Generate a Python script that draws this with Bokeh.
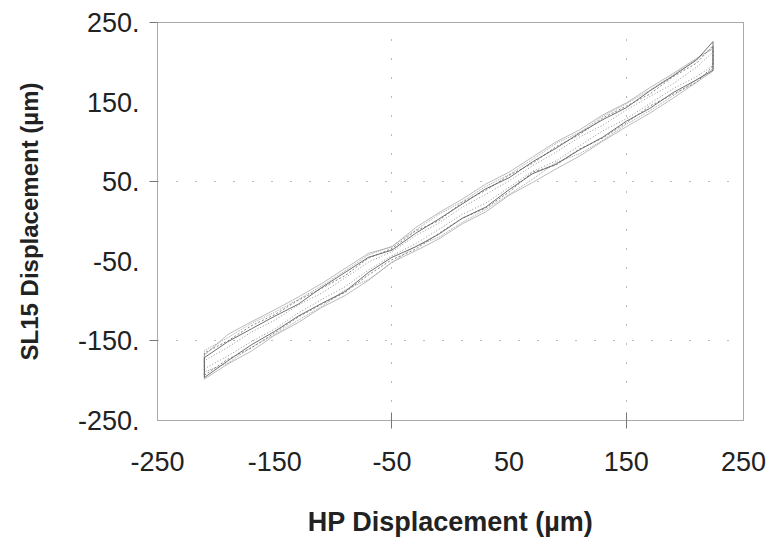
from bokeh.plotting import figure
from bokeh.models import Range1d, FixedTicker, PrintfTickFormatter
from bokeh.embed import file_html
from bokeh.resources import INLINE

# HP displacement nodes (µm) used by every branch
x_nodes = [-210, -190, -170, -150, -130, -110, -90, -70, -50, -30, -10, 10, 30, 50, 70,
           90, 110, 130, 150, 170, 190, 210, 224]

# SL15 displacement (µm) read along each loading / unloading branch
loopA_low = [-196, -175, -155, -138, -119, -103, -88, -64, -45, -32, -16, 4, 18, 40, 60,
             72, 90, 106, 126, 142, 162, 178, 190]
loopA_up = [-171, -151, -135, -119, -104, -83, -64, -45, -36, -15, 3, 22, 41, 55, 75,
            92, 111, 128, 143, 164, 183, 203, 226]
loopB_low = [-193, -173, -159, -140, -120, -104, -89, -67, -48, -35, -15, 4, 17, 37, 62,
             71, 91, 105, 124, 145, 160, 175, 195]
loopB_up = [-165, -150, -131, -117, -99, -84, -68, -46, -34, -12, 1, 24, 39, 58, 73,
            94, 109, 130, 145, 160, 182, 199, 221]
loopC_low = [-189, -178, -158, -142, -124, -107, -86, -73, -52, -31, -20, -1, 15, 34, 53,
             74, 85, 102, 122, 139, 158, 178, 192]
loopC_up = [-162, -146, -128, -114, -98, -81, -62, -42, -31, -11, 9, 25, 44, 59, 78,
            98, 112, 132, 148, 165, 184, 204, 219]
loopD_low = [-185, -169, -151, -135, -115, -98, -82, -61, -43, -28, -10, 9, 23, 43, 63,
             76, 95, 114, 129, 148, 167, 182, 196]
loopD_up = [-175, -158, -139, -124, -105, -90, -71, -51, -38, -18, -2, 18, 34, 51, 70,
            87, 106, 121, 140, 157, 173, 194, 213]
loopE_low = [-198, -179, -163, -143, -127, -108, -93, -74, -51, -37, -22, -3, 12, 33, 49,
             66, 82, 101, 119, 136, 155, 175, 189]
loopE_up = [-168, -142, -126, -111, -95, -78, -59, -40, -32, -8, 11, 28, 47, 62, 81,
            100, 115, 134, 149, 168, 186, 205, 217]

x_ticks = [-250, -150, -50, 50, 150, 250]
y_ticks = [-250, -150, -50, 50, 150, 250]
x_grid = [-50, 150]
y_grid = [-150, 50]
y_marks = [250, 50, -150]

FONT = "Liberation Sans"

p = figure(width=770, height=548, output_backend="svg", toolbar_location=None,
           x_range=Range1d(-250, 250), y_range=Range1d(-250, 250),
           min_border_left=157, min_border_right=27, min_border_top=22,
           min_border_bottom=128)

p.background_fill_color = "white"
p.border_fill_color = "white"
p.outline_line_color = "#555555"
p.outline_line_dash = "1 1"
p.outline_line_width = 1

# grid
p.xgrid.ticker = FixedTicker(ticks=x_grid)
p.ygrid.ticker = FixedTicker(ticks=y_grid)
for g in (p.xgrid, p.ygrid):
    g.grid_line_color = "#777777"
    g.grid_line_dash = "1 18"
    g.grid_line_width = 1

# axes
p.xaxis.ticker = FixedTicker(ticks=x_ticks, minor_ticks=x_grid)
p.yaxis.ticker = FixedTicker(ticks=y_ticks, minor_ticks=y_marks)
p.xaxis.formatter = PrintfTickFormatter(format="%d")
p.yaxis.formatter = PrintfTickFormatter(format="%d.")
for ax in (p.xaxis, p.yaxis):
    ax.axis_line_color = None
    ax.major_tick_in = 0
    ax.major_tick_out = 0
    ax.minor_tick_line_color = "#777777"
    ax.major_label_text_font = FONT
    ax.major_label_text_font_size = "27px"
    ax.major_label_text_color = "#222222"
    ax.axis_label_text_font = FONT
    ax.axis_label_text_font_style = "bold"
    ax.axis_label_text_color = "#222222"
p.xaxis.axis_label_text_font_size = "27px"
p.yaxis.axis_label_text_font_size = "24px"
p.xaxis.minor_tick_in = 8
p.xaxis.minor_tick_out = 8
p.yaxis.minor_tick_in = 0
p.yaxis.minor_tick_out = 8
p.yaxis.major_label_standoff = 10
p.xaxis.major_label_standoff = 23
p.xaxis.axis_label = "HP Displacement (µm)"
p.yaxis.axis_label = "SL15 Displacement (µm)"
p.yaxis.axis_label_standoff = 32
p.xaxis.axis_label_standoff = 33

styles = [
    (loopE_low, loopE_up, "#aaaaaa", "solid", 0.8),
    (loopC_low, loopC_up, "#999999", "1 1", 0.9),
    (loopD_low, loopD_up, "#888888", "1 2", 0.9),
    (loopB_low, loopB_up, "#777777", "2 2", 0.9),
    (loopA_low, loopA_up, "#606060", "solid", 0.9),
]
for low, up, col, dash, w in styles:
    xs = x_nodes + x_nodes[::-1] + [x_nodes[0]]
    ys = low + up[::-1] + [low[0]]
    p.line(xs, ys, line_color=col, line_dash=dash, line_width=w)

open("out.html", "w").write(file_html(p, INLINE))
